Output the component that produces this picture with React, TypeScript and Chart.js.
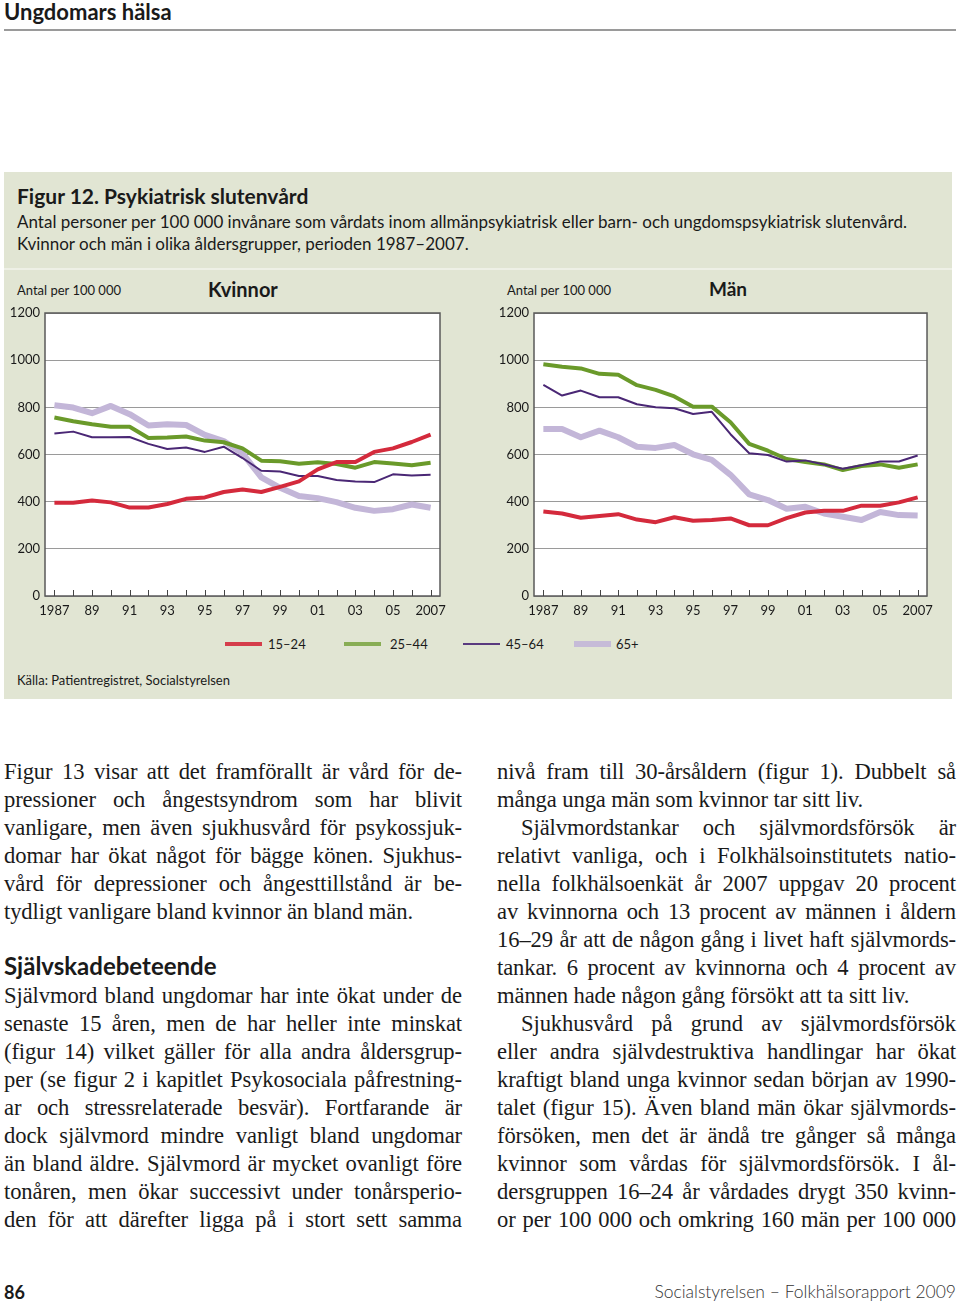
import React, { useEffect, useRef } from 'react';
import { Chart, registerables } from 'chart.js';

Chart.register(...registerables);

// ---------- DATA ----------
const years = ['1987','1988','1989','1990','1991','1992','1993','1994','1995','1996','1997','1998','1999','2000','2001','2002','2003','2004','2005','2006','2007'];
const xTickLabels = ['1987','89','91','93','95','97','99','01','03','05','2007'];
const yTicks = [0, 200, 400, 600, 800, 1000, 1200];
const seriesNames = ['15–24', '25–44', '45–64', '65+'];

// Kvinnor
const kv15_24 = [395,395,405,397,375,375,390,412,418,441,452,441,463,486,537,568,568,611,626,653,684];
const kv25_44 = [757,741,728,718,718,670,672,676,659,652,626,574,571,561,567,560,544,568,562,554,565];
const kv45_64 = [689,697,673,673,674,645,623,630,611,633,585,531,528,509,509,492,486,483,516,511,514];
const kv65 = [809,799,775,806,771,723,728,725,683,657,605,503,459,424,415,398,374,361,368,388,374];

// Män
const man15_24 = [358,350,332,339,347,324,313,334,319,322,329,300,300,330,354,361,361,383,383,397,418];
const man25_44 = [983,972,965,942,938,894,874,846,802,803,737,645,616,581,568,558,534,551,558,544,558];
const man45_64 = [895,850,871,843,843,813,800,796,772,781,686,605,598,570,575,558,540,554,570,570,596];
const man65 = [708,708,673,701,673,633,628,640,601,577,514,431,407,370,378,350,336,322,356,343,341];

const colors = ['#d42a3c', '#6a9a2a', '#4a2775', '#c3b6d8'];
const widths = [4, 4, 2, 6];
const drawOrder = [0, 2, 1, 3];

const SANS = 'Lato, "Open Sans", sans-serif';
const SERIF = '"Liberation Serif", "Times New Roman", serif';

const framePlugin = {
  id: 'frame',
  beforeDraw(chart: any) {
    const { ctx, chartArea } = chart;
    ctx.save();
    ctx.fillStyle = '#ffffff';
    ctx.fillRect(chartArea.left, chartArea.top, chartArea.right - chartArea.left, chartArea.bottom - chartArea.top);
    ctx.restore();
  },
  afterDraw(chart: any) {
    const { ctx, chartArea } = chart;
    const xs = chart.scales.x;
    ctx.save();
    ctx.strokeStyle = '#5a5a5a';
    ctx.lineWidth = 1.5;
    ctx.strokeRect(chartArea.left, chartArea.top, chartArea.right - chartArea.left, chartArea.bottom - chartArea.top);
    ctx.lineWidth = 1;
    ctx.strokeStyle = '#444';
    for (let i = 0; i < years.length; i++) {
      const px = Math.round(xs.getPixelForValue(i)) + 0.5;
      ctx.beginPath();
      ctx.moveTo(px, chartArea.bottom);
      ctx.lineTo(px, chartArea.bottom - 6);
      ctx.stroke();
    }
    ctx.restore();
  },
};

function LineChart({ series, yWidth, padRight }: { series: number[][]; yWidth: number; padRight: number }) {
  const ref = useRef<HTMLCanvasElement>(null);
  useEffect(() => {
    if (!ref.current) return;
    const chart = new Chart(ref.current, {
      type: 'line',
      data: {
        labels: years,
        datasets: series.map((d, i) => ({
          label: seriesNames[i],
          data: d,
          borderColor: colors[i],
          backgroundColor: colors[i],
          borderWidth: widths[i],
          pointRadius: 0,
          tension: 0,
          fill: false,
          order: drawOrder[i],
          borderJoinStyle: 'round' as const,
        })),
      },
      options: {
        animation: false,
        responsive: false,
        layout: { padding: { left: 0, top: 13, right: padRight, bottom: 10 } },
        plugins: { legend: { display: false }, tooltip: { enabled: false }, title: { display: false } },
        scales: {
          x: {
            offset: true,
            grid: { display: false, drawTicks: false },
            border: { display: false },
            ticks: {
              autoSkip: false,
              maxRotation: 0,
              padding: 7,
              color: '#1a1a1a',
              font: { family: SANS, size: 13 },
              callback: (_v: any, idx: number) => (idx % 2 === 0 ? xTickLabels[idx / 2] : ''),
            },
            afterFit: (s: any) => { s.height = 24; },
          },
          y: {
            min: 0,
            max: 1200,
            afterBuildTicks: (s: any) => { s.ticks = yTicks.map((v) => ({ value: v })); },
            grid: { color: '#9a9a9a', lineWidth: 1, drawTicks: false },
            border: { display: false },
            ticks: {
              padding: 5,
              color: '#1a1a1a',
              font: { family: SANS, size: 13 },
              callback: (v: any) => String(v),
            },
            afterFit: (s: any) => { s.width = yWidth; },
          },
        },
      },
      plugins: [framePlugin],
    });
    return () => chart.destroy();
  }, []);
  return <canvas ref={ref} width={460} height={330} />;
}

const abs = (left: number, top: number, extra: React.CSSProperties = {}): React.CSSProperties => ({
  position: 'absolute', left, top, ...extra,
});

const col1 = [
  ['Figur 13 visar att det framförallt är vård för de-', 1],
  ['pressioner och ångestsyndrom som har blivit', 1],
  ['vanligare, men även sjukhusvård för psykossjuk-', 1],
  ['domar har ökat något för bägge könen. Sjukhus-', 1],
  ['vård för depressioner och ångesttillstånd är be-', 1],
  ['tydligt vanligare bland kvinnor än bland män.', 0],
];
const col1b = [
  ['Självmord bland ungdomar har inte ökat under de', 1],
  ['senaste 15 åren, men de har heller inte minskat', 1],
  ['(figur 14) vilket gäller för alla andra åldersgrup-', 1],
  ['per (se figur 2 i kapitlet Psykosociala påfrestning-', 1],
  ['ar och stressrelaterade besvär). Fortfarande är', 1],
  ['dock självmord mindre vanligt bland ungdomar', 1],
  ['än bland äldre. Självmord är mycket ovanligt före', 1],
  ['tonåren, men ökar successivt under tonårsperio-', 1],
  ['den för att därefter ligga på i stort sett samma', 1],
];
const col2: [string, number, number][] = [
  ['nivå fram till 30-årsåldern (figur 1). Dubbelt så', 1, 0],
  ['många unga män som kvinnor tar sitt liv.', 0, 0],
  ['Självmordstankar och självmordsförsök är', 1, 24],
  ['relativt vanliga, och i Folkhälsoinstitutets natio-', 1, 0],
  ['nella folkhälsoenkät år 2007 uppgav 20 procent', 1, 0],
  ['av kvinnorna och 13 procent av männen i åldern', 1, 0],
  ['16–29 år att de någon gång i livet haft självmords-', 1, 0],
  ['tankar. 6 procent av kvinnorna och 4 procent av', 1, 0],
  ['männen hade någon gång försökt att ta sitt liv.', 0, 0],
  ['Sjukhusvård på grund av självmordsförsök', 1, 24],
  ['eller andra självdestruktiva handlingar har ökat', 1, 0],
  ['kraftigt bland unga kvinnor sedan början av 1990-', 1, 0],
  ['talet (figur 15). Även bland män ökar självmords-', 1, 0],
  ['försöken, men det är ändå tre gånger så många', 1, 0],
  ['kvinnor som vårdas för självmordsförsök. I ål-', 1, 0],
  ['dersgruppen 16–24 år vårdades drygt 350 kvinn-', 1, 0],
  ['or per 100 000 och omkring 160 män per 100 000', 1, 0],
];

function TextLine({ text, left, top, width, justify }: { text: string; left: number; top: number; width: number; justify: boolean }) {
  return (
    <div
      style={abs(left, top - 14, {
        width,
        height: 28,
        lineHeight: '28px',
        fontFamily: SERIF,
        fontSize: 22.6,
        letterSpacing: '-0.1px',
        color: '#1a1a1a',
        whiteSpace: 'nowrap',
        textAlign: justify ? 'justify' : 'left',
        textAlignLast: justify ? 'justify' : 'left',
      } as React.CSSProperties)}
    >
      {text}
    </div>
  );
}

const legendItems = [
  { x: 225, tx: 268 },
  { x: 344, tx: 390 },
  { x: 463, tx: 506 },
  { x: 574, tx: 616 },
];

export default function App() {
  return (
    <div style={{ position: 'absolute', left: 0, top: 0, width: 960, height: 1307, background: '#fff', overflow: 'hidden' }}>
      <div style={abs(4, -1, { fontFamily: SANS, fontWeight: 700, fontSize: 22, lineHeight: '26px', color: '#1a1a1a' })}>Ungdomars hälsa</div>
      <div style={abs(4, 29, { width: 952, height: 2, background: '#9a9a9a' })} />

      <div style={abs(4, 172, { width: 948, height: 527, background: '#e1e5d3' })} />
      <div style={abs(4, 268, { width: 948, height: 2, background: '#eef0e6' })} />

      <div style={abs(17, 183, { fontFamily: SANS, fontWeight: 700, fontSize: 21, lineHeight: '26px', color: '#1a1a1a' })}>Figur 12. Psykiatrisk slutenvård</div>
      <div style={abs(17, 211, { fontFamily: SANS, fontSize: 17, lineHeight: '22px', color: '#1a1a1a' })}>
        Antal personer per 100 000 invånare som vårdats inom allmänpsykiatrisk eller barn- och ungdomspsykiatrisk slutenvård.
        <br />
        Kvinnor och män i olika åldersgrupper, perioden 1987–2007.
      </div>

      <div style={abs(17, 282, { fontFamily: SANS, fontSize: 13, lineHeight: '16px', color: '#1a1a1a' })}>Antal per 100 000</div>
      <div style={abs(208, 278, { fontFamily: SANS, fontWeight: 700, fontSize: 20, lineHeight: '22px', color: '#1a1a1a' })}>Kvinnor</div>
      <div style={abs(507, 282, { fontFamily: SANS, fontSize: 13, lineHeight: '16px', color: '#1a1a1a' })}>Antal per 100 000</div>
      <div style={abs(709, 278, { fontFamily: SANS, fontWeight: 700, fontSize: 19, lineHeight: '22px', color: '#1a1a1a' })}>Män</div>

      <div style={abs(0, 300, { width: 460, height: 330 })}>
        <LineChart series={[kv15_24, kv25_44, kv45_64, kv65]} yWidth={45} padRight={20} />
      </div>
      <div style={abs(480, 300, { width: 460, height: 330 })}>
        <LineChart series={[man15_24, man25_44, man45_64, man65]} yWidth={54} padRight={11} />
      </div>

      {legendItems.map((it, i) => (
        <React.Fragment key={i}>
          <div style={abs(it.x, 644 - widths[i] / 2, { width: 37, height: widths[i], background: colors[i], opacity: i === 1 ? 0.75 : 0.9 })} />
          <div style={abs(it.tx, 636, { fontFamily: SANS, fontSize: 13, lineHeight: '16px', color: '#1a1a1a' })}>{seriesNames[i]}</div>
        </React.Fragment>
      ))}

      <div style={abs(17, 672, { fontFamily: SANS, fontSize: 13, lineHeight: '16px', color: '#1a1a1a' })}>Källa: Patientregistret, Socialstyrelsen</div>

      {col1.map((l, i) => (
        <TextLine key={'a' + i} text={l[0] as string} left={4} top={772 + i * 28} width={458} justify={l[1] === 1} />
      ))}
      <div style={abs(4, 952, { fontFamily: SANS, fontWeight: 700, fontSize: 24, lineHeight: '28px', color: '#1a1a1a' })}>Självskadebeteende</div>
      {col1b.map((l, i) => (
        <TextLine key={'b' + i} text={l[0] as string} left={4} top={996 + i * 28} width={458} justify={l[1] === 1} />
      ))}
      {col2.map((l, i) => (
        <TextLine key={'c' + i} text={l[0]} left={497 + l[2]} top={772 + i * 28} width={459 - l[2]} justify={l[1] === 1} />
      ))}

      <div style={abs(4, 1281, { fontFamily: SANS, fontWeight: 700, fontSize: 18, lineHeight: '22px', color: '#1a1a1a' })}>86</div>
      <div style={abs(556, 1281, { width: 400, textAlign: 'right', fontFamily: SANS, fontWeight: 300, fontSize: 17.5, lineHeight: '22px', color: '#333' })}>Socialstyrelsen – Folkhälsorapport 2009</div>
    </div>
  );
}
